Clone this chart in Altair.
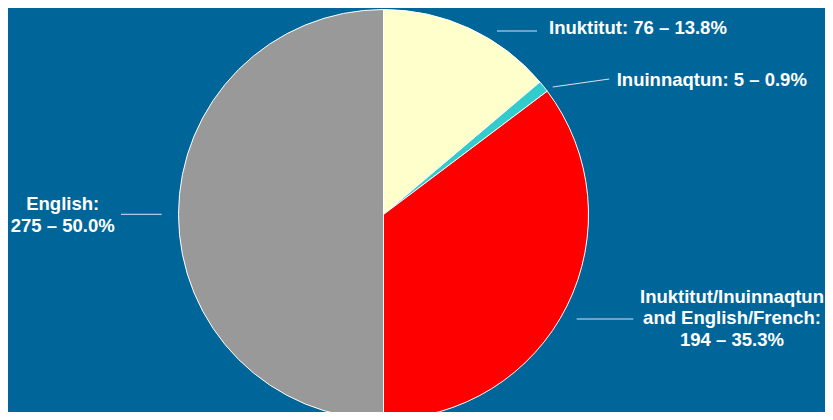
import altair as alt
import pandas as pd

# ---- data ----
categories = ["Inuktitut", "Inuinnaqtun", "Inuktitut/Inuinnaqtun and English/French", "English"]
counts = [76, 5, 194, 275]
shares = [13.8, 0.9, 35.3, 50.0]
colors = ["#FFFFCC", "#33CCCC", "#FF0000", "#999999"]
label_lines = [
    ["Inuktitut: 76 \u2013 13.8%"],
    ["Inuinnaqtun: 5 \u2013 0.9%"],
    ["Inuktitut/Inuinnaqtun", "and English/French:", "194 \u2013 35.3%"],
    ["English:", "275 \u2013 50.0%"],
]

# ---- layout (annotation placement, chart pixel coordinates; page = chart + 8px margin) ----
BG = "#006699"
W, H = 817, 404
CX, CY, R = 375.5, 206.5, 205
label_x = [541, 608.7, 724.0, 54.7]
label_y = [26, 78, 294.7, 202]
label_align = ["left", "left", "center", "center"]
lead_x = [489, 544.7, 568.7, 113]
lead_x2 = [529, 601.3, 625.3, 153.7]
lead_y = [23, 79, 311, 206.3]
lead_y2 = [23, 71, 311, 206.3]

pie_df = pd.DataFrame({"category": categories, "count": counts, "order": list(range(len(categories)))})

pie = alt.Chart(pie_df).mark_arc(outerRadius=R, stroke="white", strokeWidth=1).encode(
    theta=alt.Theta("count:Q", stack=True),
    color=alt.Color("category:N", scale=alt.Scale(domain=categories, range=colors), legend=None),
    order=alt.Order("order:Q"),
    x=alt.value(CX),
    y=alt.value(CY),
)

lab_df = pd.DataFrame({
    "text": label_lines,
    "lx": label_x,
    "ly": label_y,
    "align": label_align,
})

def text_layer(align):
    d = lab_df[lab_df["align"] == align]
    return alt.Chart(d).mark_text(
        align=align, baseline="alphabetic", font="Liberation Sans", fontSize=18.5,
        fontWeight="bold", color="white", lineHeight=21.5,
    ).encode(
        x=alt.X("lx:Q", scale=None, axis=None),
        y=alt.Y("ly:Q", scale=None, axis=None),
        text="text",
    )

lead_df = pd.DataFrame({"x": lead_x, "x2": lead_x2, "y": lead_y, "y2": lead_y2})
leaders = alt.Chart(lead_df).mark_rule(color="#D8E4EE", strokeWidth=1).encode(
    x=alt.X("x:Q", scale=None, axis=None),
    x2="x2:Q",
    y=alt.Y("y:Q", scale=None, axis=None),
    y2="y2:Q",
)

chart = alt.layer(pie, leaders, text_layer("left"), text_layer("center")).properties(
    width=W, height=H,
    autosize=alt.AutoSizeParams(type="none"),
    padding=0,
    background=BG,
).configure_view(stroke=None)

chart.save("out.html", embed_options={"renderer": "svg", "actions": False})
